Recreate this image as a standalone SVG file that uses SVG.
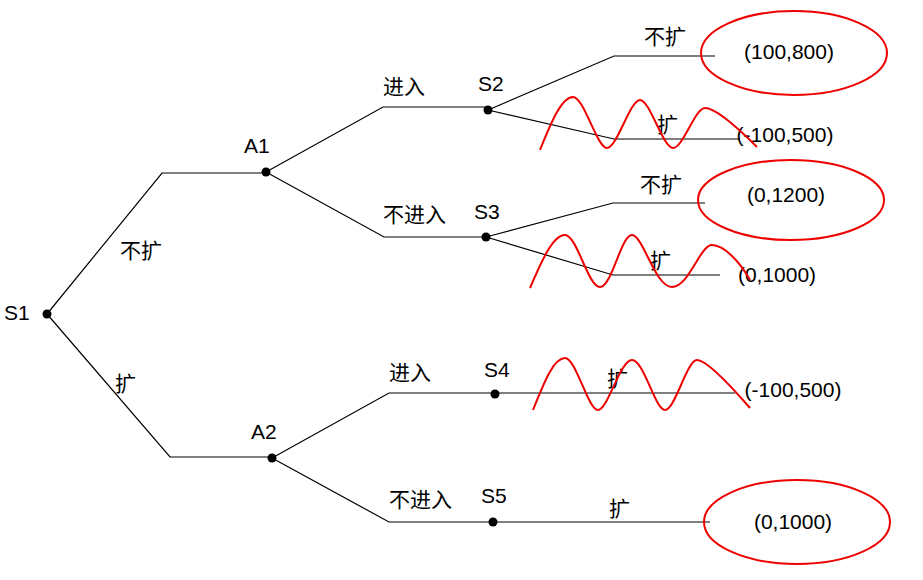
<svg xmlns="http://www.w3.org/2000/svg" width="923" height="580" viewBox="0 0 923 580">
<style>
.l{fill:none;stroke:#000;stroke-width:1.2}
.w{fill:none;stroke:#e00;stroke-width:2}
text{font-family:"Liberation Sans","Noto Sans CJK SC",sans-serif;font-size:21px;fill:#000}
.c{text-anchor:middle}
</style>
<rect width="923" height="580" fill="#fff"/>
<g id="connectors">
<path class="l" d="M47,314 L162,173 L266,173"/>
<path class="l" d="M47,314 L170,457 L272,457"/>
<path class="l" d="M266,172 L383,107 L488,107"/>
<path class="l" d="M266,172 L384,237 L486,237"/>
<path class="l" d="M488,110 L614,56 L715,56"/>
<path class="l" d="M488,110 L614,139 L740,139"/>
<path class="l" d="M486,237 L613,203 L705,203"/>
<path class="l" d="M486,237 L613,275 L720,275"/>
<path class="l" d="M272,458 L389,393 L495,393 L735,393"/>
<path class="l" d="M272,458 L389,522 L493,522 L710,522"/>
</g>
<g id="edge-labels">
<text x="120" y="258">不扩</text>
<text x="115" y="391">扩</text>
<text x="383" y="94">进入</text>
<text x="383" y="222">不进入</text>
<text x="389" y="380">进入</text>
<text x="389" y="507">不进入</text>
<text x="644" y="44">不扩</text>
<text x="657" y="132">扩</text>
<text x="640" y="192">不扩</text>
<text x="650" y="268">扩</text>
<text x="607" y="386">扩</text>
<text x="609" y="516">扩</text>
</g>
<g id="S1"><circle cx="47" cy="314" r="4.5"/><text x="4" y="320">S1</text></g>
<g id="A1"><circle cx="266" cy="172" r="4.5"/><text x="244" y="153">A1</text></g>
<g id="A2"><circle cx="272" cy="458" r="4.5"/><text x="251" y="439">A2</text></g>
<g id="S2"><circle cx="488" cy="110" r="4.5"/><text x="478" y="91">S2</text></g>
<g id="S3"><circle cx="486" cy="237" r="4.5"/><text x="474" y="219">S3</text></g>
<g id="S4"><circle cx="495" cy="394" r="4.5"/><text x="484" y="377">S4</text></g>
<g id="S5"><circle cx="493" cy="522" r="4.5"/><text x="481" y="503">S5</text></g>
<g id="outcomes">
<ellipse class="w" cx="794" cy="53" rx="93" ry="42"/>
<text class="c" x="789" y="59">(100,800)</text>
<text class="c" x="785" y="142">(-100,500)</text>
<ellipse class="w" cx="791" cy="200" rx="93" ry="40"/>
<text class="c" x="786" y="202">(0,1200)</text>
<text class="c" x="777" y="282">(0,1000)</text>
<text class="c" x="793" y="397">(-100,500)</text>
<ellipse class="w" cx="797" cy="522" rx="93" ry="42"/>
<text class="c" x="793" y="529">(0,1000)</text>
</g>
<g id="waves">
<path class="w" d="M540,150 C552,120 562,97 573,97 S597,148 607,148 S630,100 640,100 S663,148 673,148 S695,108 705,108 S735,125 757,147"/>
<path class="w" d="M530,288 C542,260 553,235 565,235 S588,287 600,287 S621,235 632,235 S655,287 672,287 S700,245 712,245 S740,262 750,280"/>
<path class="w" d="M533,410 C545,380 554,358 565,358 S588,410 598,410 S620,360 632,360 S655,410 665,410 S687,360 697,360 S730,385 750,408"/>
</g>
</svg>
